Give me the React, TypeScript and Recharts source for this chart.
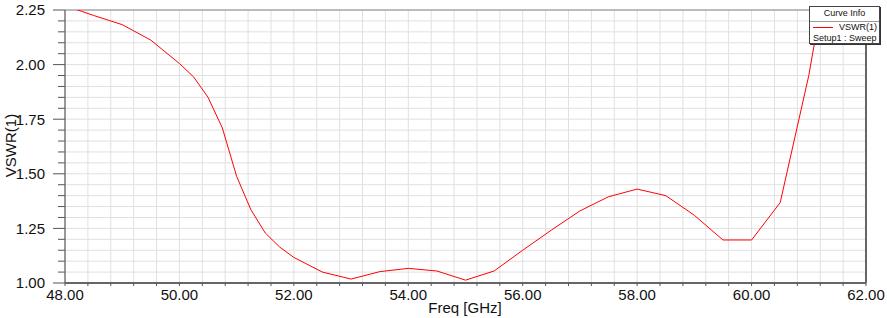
import {
  CartesianGrid,
  Line,
  LineChart,
  ReferenceArea,
  ReferenceLine,
  XAxis,
  YAxis,
} from "recharts";

const freq = [
  48, 48.5, 49, 49.5, 50, 50.25, 50.5, 50.75, 51, 51.25, 51.5, 51.75, 52, 52.5,
  53, 53.5, 54, 54.5, 55, 55.5, 56, 56.5, 57, 57.5, 58, 58.5, 59, 59.5, 60, 60.5,
  61, 61.5,
];
const vswr = [
  2.27, 2.225, 2.183, 2.112, 2.005, 1.943, 1.85, 1.71, 1.488, 1.335, 1.229, 1.165,
  1.117, 1.05, 1.018, 1.052, 1.067, 1.055, 1.013, 1.055, 1.15, 1.242, 1.33, 1.395,
  1.43, 1.4, 1.31, 1.197, 1.197, 1.368, 1.95, 2.7,
];

const xTicks = Array.from({ length: 36 }, (_, i) => +(48 + i * 0.4).toFixed(1));
const yTicks = Array.from({ length: 26 }, (_, i) => +(1 + i * 0.05).toFixed(2));

const data = freq.map((f, i) => ({ freq: f, vswr: vswr[i] }));

const FONT = "'Liberation Sans', Arial, sans-serif";

function isMajor(v: number, step: number) {
  const r = v / step;
  return Math.abs(r - Math.round(r)) < 1e-6;
}

function YTick(props: any) {
  const { x, y, payload } = props;
  const major = isMajor(payload.value - 1, 0.25);
  return (
    <g>
      <line x1={x - (major ? 12 : 7)} x2={x} y1={y} y2={y} stroke="#555" />
      {major && (
        <text x={x - 20} y={y} dy="0.36em" textAnchor="end" fontSize={15} fill="#111" fontFamily={FONT}>
          {payload.value.toFixed(2)}
        </text>
      )}
    </g>
  );
}

function XTick(props: any) {
  const { x, y, payload } = props;
  const major = isMajor(payload.value - 48, 2);
  return (
    <g>
      <line x1={x} x2={x} y1={y} y2={y + 3} stroke="#555" />
      {major && (
        <text x={x} y={y + 17} textAnchor="middle" fontSize={15} fill="#111" fontFamily={FONT}>
          {payload.value.toFixed(2)}
        </text>
      )}
    </g>
  );
}

export default function App() {
  return (
    <div style={{ position: "absolute", left: 0, top: 0, width: 887, height: 318, background: "#fff", fontFamily: FONT }}>
      <LineChart width={887} height={318} data={data} margin={{ top: 10, right: 21, bottom: 0, left: 0 }}>
        <CartesianGrid stroke="#e0e0e0" />
        <XAxis
          dataKey="freq"
          type="number"
          domain={[48, 62]}
          ticks={xTicks}
          interval={0}
          tick={<XTick />}
          tickSize={0}
          tickMargin={0}
          height={35}
          axisLine={{ stroke: "#666", strokeWidth: 2 }}
        />
        <YAxis
          type="number"
          domain={[1, 2.25]}
          allowDataOverflow
          ticks={yTicks}
          interval={0}
          tick={<YTick />}
          tickSize={0}
          tickMargin={0}
          width={65}
          axisLine={{ stroke: "#777" }}
        />
        <ReferenceArea x1={48} x2={62} y1={1} y2={2.25} fill="none" stroke="#888" />
        <ReferenceLine x={62} stroke="#666" strokeWidth={2} />
        <Line
          type="linear"
          dataKey="vswr"
          stroke="#ff0000"
          strokeWidth={1}
          dot={false}
          isAnimationActive={false}
        />
      </LineChart>
      <div
        style={{
          position: "absolute",
          left: 0,
          top: 145,
          width: 21,
          height: 0,
          display: "flex",
          justifyContent: "center",
          alignItems: "center",
        }}
      >
        <span style={{ transform: "rotate(-90deg)", fontSize: 15, color: "#111", whiteSpace: "nowrap" }}>VSWR(1)</span>
      </div>
      <div style={{ position: "absolute", left: 365, width: 200, top: 299, textAlign: "center", fontSize: 15, color: "#111" }}>
        Freq [GHz]
      </div>
      <div
        style={{
          position: "absolute",
          left: 809,
          top: 6,
          width: 69,
          height: 36,
          border: "1px solid #444",
          boxShadow: "1px 1px 0 #333",
          background: "#fff",
          fontSize: 9,
          color: "#111",
          lineHeight: "11px",
        }}
      >
        <div style={{ textAlign: "center", height: 13, borderBottom: "1px solid #999", paddingTop: 1 }}>Curve Info</div>
        <div style={{ display: "flex", alignItems: "center", justifyContent: "space-between", padding: "0 2px 0 3px" }}>
          <span style={{ display: "inline-block", width: 20, height: 1, background: "#ff0000" }} />
          <span>VSWR(1)</span>
        </div>
        <div style={{ paddingLeft: 3, whiteSpace: "nowrap" }}>Setup1 : Sweep</div>
      </div>
    </div>
  );
}
